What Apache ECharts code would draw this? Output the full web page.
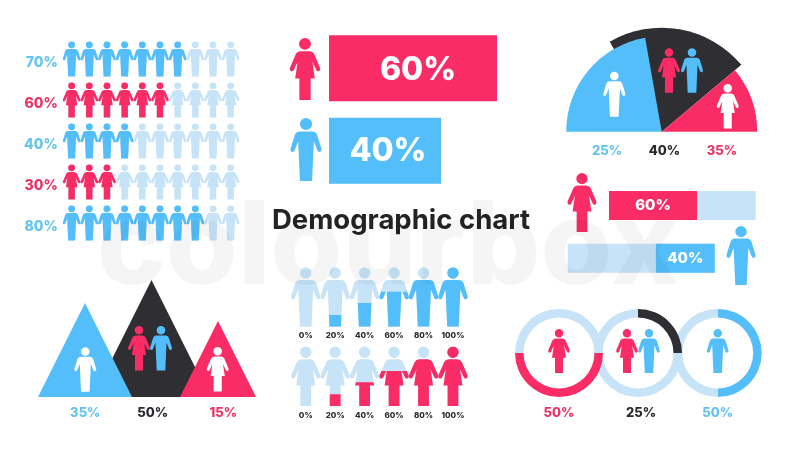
<!DOCTYPE html>
<html><head><meta charset="utf-8">
<style>html,body{margin:0;padding:0;background:#fff}#c{width:800px;height:450px}</style>
<script src="https://cdn.jsdelivr.net/npm/echarts@6/dist/echarts.min.js"></script>
</head><body><div id="c"></div>
<script>
// ---- data ----
const rowLabels = ['70%','60%','40%','30%','80%'];
const rowValues = [70,60,40,30,80];
const rowGender = ['m','f','m','f','m'];

const bigLabels = ['Women','Men'];
const bigValues = [60,40];

const arcLabels = ['25%','40%','35%'];
const arcBackSpans = [80,280];        // degrees: dark slice, remainder
const arcFrontSpans = [80,60,40,180]; // degrees: blue, gap, pink, remainder

const progressFemale = [60];
const progressMale = [40];

const triLabels = ['35%','50%','15%'];
const triHeights = [94,117,76];

const fillLabels = ['0%','20%','40%','60%','80%','100%'];
const fillValues = [0,20,40,59,81,100];

const ringLabels = ['50%','25%','50%'];
const ringFemale = [50,50];
const ringBoth = [25,75];
const ringMale = [50,50];

const titleText = 'Demographic chart';
const watermarkText = 'colourbox';

// ---- styling ----
const BLUE='#53BEFA', PINK='#F92C66', DARK='#2F2F33', LIGHT='#C6E3F8';
const TBLUE='#63C4F2', TPINK='#EC3366', TDARK='#2A2A2E';
const FONT='Inter, "Noto Sans", sans-serif';
const HEAD='M44 0A17 17 0 1 1 43.99 0Z';
const MALE=HEAD+'M26 38H62Q71 38 75 47L87 86Q89 93 83.5 95.5Q78 97 75.5 91L66 66L61 178H27L22 66L12.5 91Q10 97 4.5 95.5Q-1 93 1 86L13 47Q17 38 26 38Z';
const FEMALE=HEAD+'M32 38H56Q66 38 70 46L87 86Q89 93 83.5 95.5Q78 97 75.5 91L65 68L72 116H60V178H28V116H16L23 68L12.5 91Q10 97 4.5 95.5Q-1 93 1 86L18 46Q22 38 32 38Z';
const sym=g=>'path://'+(g==='m'?MALE:FEMALE);

const grids=[], xAxes=[], yAxes=[], series=[], graphics=[], icons=[];
function addGrid(g,x,y){const i=grids.length;grids.push(g);xAxes.push(Object.assign({gridIndex:i,show:false},x));yAxes.push(Object.assign({gridIndex:i,show:false},y));return i;}
const hidden={axisLine:{show:false},axisTick:{show:false},splitLine:{show:false}};

function icon(g,cx,top,h,color){
  const w=h*88/178;
  icons.push({type:'path',
    shape:{pathData:g==='m'?MALE:FEMALE,layout:'cover',x:cx-w/2,y:top,width:w,height:h},
    style:{fill:color}});
}
function text(t,cx,cy,size,color,weight){
  graphics.push({type:'text',z:60,silent:true,x:cx,y:cy,
    style:{text:t,fill:color,font:(weight||800)+' '+size+'px '+FONT,textAlign:'center',textVerticalAlign:'middle'}});
}

// ---- person rows ----
const rowGrid=addGrid({left:62.8,top:38.5,width:176.7,height:205},
  {type:'value',min:0,max:100,show:false},
  {type:'category',inverse:true,data:rowLabels,show:true,...hidden,
   axisLabel:{margin:5,verticalAlign:'top',lineHeight:8,fontFamily:FONT,fontWeight:800,fontSize:14,
     color:(v,i)=>rowGender[i]==='m'?TBLUE:TPINK}});
series.push({type:'pictorialBar',xAxisIndex:rowGrid,yAxisIndex:rowGrid,z:2,silent:true,animation:false,
  symbolRepeat:10,symbolSize:[17.67,35],symbolMargin:0,symbolPosition:'start',symbolBoundingData:100,
  itemStyle:{color:LIGHT},
  data:rowValues.map((v,i)=>({value:100,symbol:sym(rowGender[i])}))});
series.push({type:'pictorialBar',xAxisIndex:rowGrid,yAxisIndex:rowGrid,z:3,silent:true,animation:false,
  symbolRepeat:10,symbolSize:[17.67,35],symbolMargin:0,symbolPosition:'start',symbolBoundingData:100,symbolClip:true,
  data:rowValues.map((v,i)=>({value:v,symbol:sym(rowGender[i]),itemStyle:{color:rowGender[i]==='m'?BLUE:PINK}}))});

// ---- big 60/40 bars ----
const bigGrid=addGrid({left:329,top:27,width:280,height:165},
  {type:'value',min:0,max:100,show:false},
  {type:'category',inverse:true,data:bigLabels,show:false});
series.push({type:'bar',xAxisIndex:bigGrid,yAxisIndex:bigGrid,barWidth:66,silent:true,animation:false,
  data:bigValues.map((v,i)=>({value:v,itemStyle:{color:i?BLUE:PINK},label:{offset:i?[3,1]:[5,2]}})),
  label:{show:true,position:'inside',color:'#fff',fontFamily:FONT,fontWeight:800,fontSize:32,formatter:p=>p.value+'%'}});
icon('f',305,38,62,PINK);
icon('m',306,118,63,BLUE);

// ---- half dial ----
const dialC=[661.7,131.7];
series.push({type:'pie',center:dialC,radius:[0,104],startAngle:120,silent:true,animation:false,z:2,
  label:{show:false},labelLine:{show:false},
  data:arcBackSpans.map((v,i)=>({value:v,itemStyle:{color:i?'rgba(0,0,0,0)':DARK}}))});
series.push({type:'pie',center:dialC,radius:[0,95.5],startAngle:180,silent:true,animation:false,z:3,
  label:{show:false},labelLine:{show:false},
  data:arcFrontSpans.map((v,i)=>({value:v,itemStyle:{color:[BLUE,'rgba(0,0,0,0)',PINK,'rgba(0,0,0,0)'][i]}}))});
icon('m',614.3,71.7,45,'#fff');
icon('f',669,48.3,44.5,PINK);
icon('m',692,48.3,44.5,BLUE);
icon('f',727.7,84,44.5,'#fff');
[607,664.5,722].forEach((x,i)=>text(arcLabels[i],x,151,13,[TBLUE,TDARK,TPINK][i]));

// ---- progress bars ----
const pFemale=addGrid({left:609,top:191,width:146.7,height:29},
  {type:'value',min:0,max:100,show:false},{type:'category',data:['Women'],show:false});
series.push({type:'bar',xAxisIndex:pFemale,yAxisIndex:pFemale,barWidth:'100%',silent:true,animation:false,
  showBackground:true,backgroundStyle:{color:LIGHT},itemStyle:{color:PINK},data:progressFemale,
  label:{show:true,position:'inside',color:'#fff',fontFamily:FONT,fontWeight:800,fontSize:15,formatter:p=>p.value+'%'}});
const pMale=addGrid({left:567.7,top:243.7,width:147,height:29},
  {type:'value',min:0,max:100,inverse:true,show:false},{type:'category',data:['Men'],show:false});
series.push({type:'bar',xAxisIndex:pMale,yAxisIndex:pMale,barWidth:'100%',silent:true,animation:false,
  showBackground:true,backgroundStyle:{color:LIGHT},itemStyle:{color:BLUE},data:progressMale,
  label:{show:true,position:'inside',color:'#fff',fontFamily:FONT,fontWeight:800,fontSize:15,formatter:p=>p.value+'%'}});
icon('f',582,173,59,PINK);
icon('m',741,226,59,BLUE);

// ---- triangles ----
const triGrid=addGrid({left:51.75,top:280,width:199.5,height:117},
  {type:'category',data:triLabels,show:false},{type:'value',min:0,max:117,show:false});
const triColors=[BLUE,DARK,PINK];
series.push({type:'custom',xAxisIndex:triGrid,yAxisIndex:triGrid,silent:true,animation:false,clip:false,z:2,
  encode:{x:0,y:1},
  data:[1,0,2].map(i=>[i,triHeights[i]]),
  renderItem:(p,api)=>{
    const idx=api.value(0),b=api.coord([idx,0]),a=api.coord([idx,api.value(1)]),h=b[1]-a[1];
    return {type:'polygon',shape:{points:[[a[0],a[1]],[b[0]+h/2,b[1]],[b[0]-h/2,b[1]]]},style:{fill:triColors[idx]}};
  }});
icon('m',85.3,347.3,44.5,'#fff');
icon('f',139,326,44.5,PINK);
icon('m',161,326,44.5,BLUE);
icon('f',217.7,347,44.5,'#fff');
[85.3,152.7,223.3].forEach((x,i)=>text(triLabels[i],x,412.7,13,[TBLUE,TDARK,TPINK][i]));

// ---- fill figures ----
function fillBlock(g,top,color){
  const gi=addGrid({left:291,top:top,width:176.7,height:59.5},
    {type:'category',data:fillLabels,show:true,...hidden,
     axisLabel:{margin:5,color:TDARK,fontFamily:FONT,fontWeight:800,fontSize:8,interval:0}},
    {type:'value',min:0,max:100,show:false});
  const base={type:'pictorialBar',xAxisIndex:gi,yAxisIndex:gi,silent:true,animation:false,symbol:sym(g),
    symbolSize:[29.4,59.5],symbolPosition:'start',symbolBoundingData:100};
  series.push(Object.assign({},base,{z:2,itemStyle:{color:LIGHT},data:fillValues.map(()=>100)}));
  series.push(Object.assign({},base,{z:3,symbolClip:true,itemStyle:{color:color},data:fillValues}));
}
fillBlock('m',267.3,BLUE);
fillBlock('f',346.6,PINK);

// ---- rings ----
const ringRad=[35.5,44];
function ring(cx,vals,colors,start,z){
  series.push({type:'pie',center:[cx,353],radius:ringRad,startAngle:start,silent:true,animation:false,z:z,
    label:{show:false},labelLine:{show:false},
    data:vals.map((v,i)=>({value:v,itemStyle:{color:colors[i]}}))});
}
ring(717.7,ringMale,[BLUE,LIGHT],90,2);
ring(638,ringBoth,[DARK,LIGHT],90,3);
ring(559,ringFemale,[LIGHT,PINK],180,4);
icon('f',559,329,44,PINK);
icon('f',627,329,44,PINK);
icon('m',649,329,44,BLUE);
icon('m',717.7,329,44,BLUE);
[559,641,717.7].forEach((x,i)=>text(ringLabels[i],x,412.7,13,[TPINK,TDARK,TBLUE][i]));

// ---- icons (decorative figures, drawn without a coordinate system) ----
series.push({type:'custom',coordinateSystem:'none',silent:true,animation:false,z:50,data:[0],
  renderItem:()=>({type:'group',children:icons})});

// ---- title + watermark ----
text(titleText,401,221,27.5,'#232326',700);
graphics.push({type:'text',z:70,silent:true,x:388,y:249,
  style:{text:watermarkText,fill:'rgba(0,0,0,0.04)',font:'800 116px '+FONT,textAlign:'center',textVerticalAlign:'middle'}});

const chart=echarts.init(document.getElementById('c'),null,{renderer:'canvas'});
chart.setOption({animation:false,backgroundColor:'#fff',tooltip:{show:false},
  grid:grids,xAxis:xAxes,yAxis:yAxes,series:series,graphic:{elements:graphics}});
</script></body></html>
